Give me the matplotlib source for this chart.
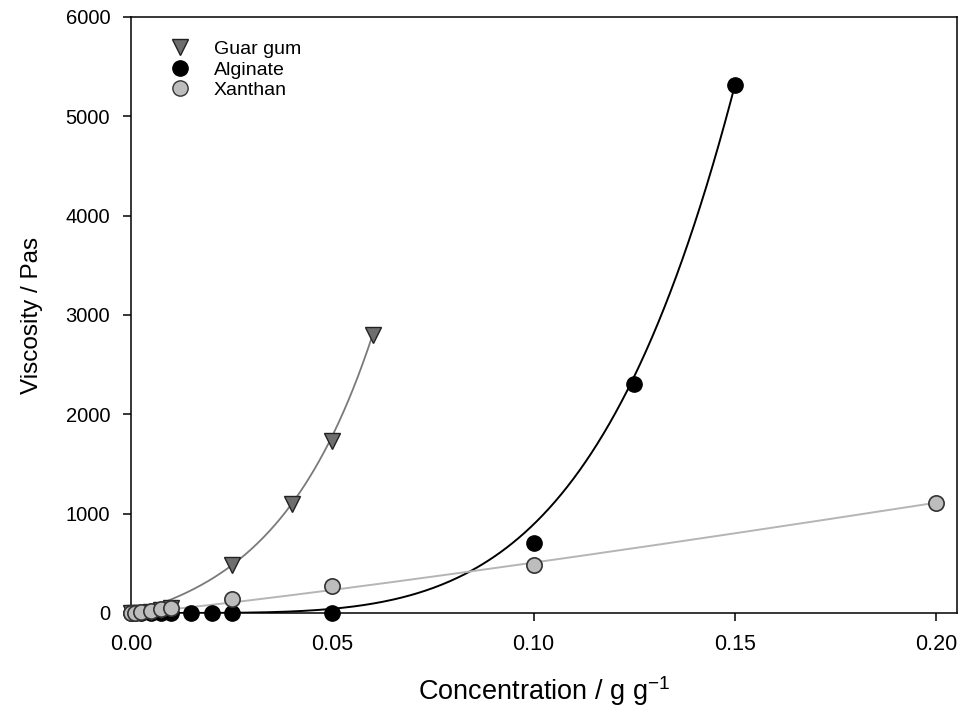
import numpy as np
import matplotlib
matplotlib.use("Agg")
import matplotlib.pyplot as plt
from matplotlib.lines import Line2D

plt.rcParams['font.family'] = ['Liberation Sans', 'DejaVu Sans']
plt.rcParams['mathtext.fontset'] = 'custom'
plt.rcParams['mathtext.rm'] = 'Liberation Sans'
plt.rcParams['axes.unicode_minus'] = False

# ---- data ----
guar_x = [0.0, 0.001, 0.0025, 0.005, 0.0075, 0.01, 0.025, 0.04, 0.05, 0.06]
guar_y = [0, 0, 5, 15, 30, 50, 480, 1095, 1735, 2800]

alg_x = [0.0, 0.001, 0.0025, 0.005, 0.0075, 0.01, 0.015, 0.02, 0.025, 0.05, 0.10, 0.125, 0.15]
alg_y = [0, 0, 0, 0, 0, 0, 0, 0, 0, 0, 705, 2305, 5320]

xan_x = [0.0, 0.001, 0.0025, 0.005, 0.0075, 0.01, 0.025, 0.05, 0.10, 0.20]
xan_y = [0, 2, 8, 20, 40, 55, 140, 275, 480, 1110]

# fitted-curve parameters
guar_fit = (279.0, 40.0)        # y = a*(exp(b*x)-1)
alg_fit = (2.24e7, 4.4)         # y = a*x**n
xan_fit = (6844.0, 1.13)        # y = a*x**n

x_ticks = [0.00, 0.05, 0.10, 0.15, 0.20]
x_ticklabels = ["0.00", "0.05", "0.10", "0.15", "0.20"]
y_ticks = [0, 1000, 2000, 3000, 4000, 5000, 6000]

# ---- figure ----
fig = plt.figure(figsize=(9.62, 7.15), dpi=100)
ax = fig.add_axes([131/962, 1-613/715, (957-131)/962, (613-17)/715])

xg = np.linspace(0, max(guar_x), 200)
xa = np.linspace(0, max(alg_x), 300)
xx = np.linspace(0, max(xan_x), 300)

ax.plot(xg, guar_fit[0]*(np.exp(guar_fit[1]*xg)-1), color='#7a7a7a', lw=1.3, zorder=2)
ax.plot(xa, alg_fit[0]*xa**alg_fit[1], color='black', lw=1.4, zorder=2)
ax.plot(xx, xan_fit[0]*xx**xan_fit[1], color='#b5b5b5', lw=1.4, zorder=2)

ms = 11
ax.plot(alg_x, alg_y, 'o', ms=ms, mfc='black', mec='black', mew=1.0, clip_on=False, zorder=3)
ax.plot(guar_x, guar_y, 'v', ms=ms+1, mfc='#6e6e6e', mec='#222222', mew=1.0, clip_on=False, zorder=4)
ax.plot(xan_x, xan_y, 'o', ms=ms, mfc='#bdbdbd', mec='#333333', mew=1.2, clip_on=False, zorder=5)

ax.set_xlim(0, 0.2052)
ax.set_ylim(0, 6000)
ax.set_xticks(x_ticks)
ax.set_xticklabels(x_ticklabels)
ax.set_yticks(y_ticks)

for s in ax.spines.values():
    s.set_linewidth(1.1)
ax.tick_params(direction='out', length=6, width=1.1)
ax.tick_params(axis='x', labelsize=15.5, pad=9)
ax.tick_params(axis='y', labelsize=14.5, pad=9)

ax.set_xlabel(r"Concentration / g g$^{\mathrm{-1}}$", fontsize=19.5, labelpad=14)
ax.set_ylabel("Viscosity / Pas", fontsize=17.5, labelpad=16)

handles = [
    Line2D([], [], ls='none', marker='v', ms=11, mfc='#6e6e6e', mec='#222222'),
    Line2D([], [], ls='none', marker='o', ms=11, mfc='black', mec='black'),
    Line2D([], [], ls='none', marker='o', ms=11, mfc='#bdbdbd', mec='#333333'),
]
ax.legend(handles, ["Guar gum", "Alginate", "Xanthan"], loc='upper left',
          bbox_to_anchor=(0.02, 0.99), frameon=False, fontsize=14,
          handletextpad=1.0, labelspacing=0.15, handlelength=1.5)

fig.savefig("out.png", dpi=100)
